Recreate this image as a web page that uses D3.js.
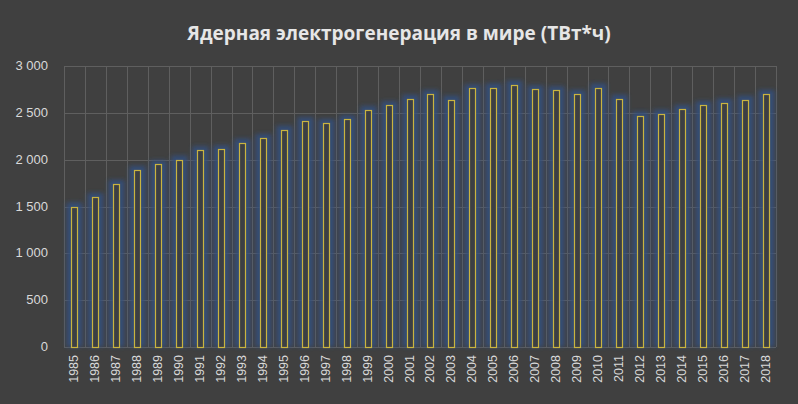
<!DOCTYPE html><html><head><meta charset="utf-8"><script src="https://cdn.jsdelivr.net/npm/d3@7"></script>
<style>body{margin:0;background:#404040}</style></head><body><svg id="c" width="798" height="404"></svg>
<script>
const years=d3.range(1985,2019).map(String);
const values=[1500,1600,1740,1890,1950,2000,2100,2110,2180,2230,2320,2410,2390,2430,2530,2580,2650,2700,2640,2760,2770,2800,2750,2740,2700,2770,2650,2470,2490,2540,2580,2610,2640,2700];
const yTicks=[0,500,1000,1500,2000,2500,3000];
const svg=d3.select("#c");
svg.append("rect").attr("width",798).attr("height",404).attr("fill","#404040");
const defs=svg.append("defs");
defs.append("filter").attr("id","bl").attr("x","-50%").attr("y","-10%").attr("width","200%").attr("height","120%")
 .append("feGaussianBlur").attr("stdDeviation",2.2);
const x=d3.scaleBand().domain(years).range([64,776]);
const y=d3.scaleLinear().domain([0,3000]).range([347,66]);
const fmt=v=>d3.format(",")(v).replace(","," ");
svg.append("g").selectAll("line").data(yTicks).join("line").attr("x1",64).attr("x2",776).attr("y1",d=>Math.round(y(d))+0.5).attr("y2",d=>Math.round(y(d))+0.5).attr("stroke","#5f5f5f");
svg.append("g").selectAll("line").data(years.concat(["end"])).join("line").attr("x1",(d,i)=>Math.round(64+i*x.step())+0.5).attr("x2",(d,i)=>Math.round(64+i*x.step())+0.5).attr("y1",66).attr("y2",347).attr("stroke","#5f5f5f");
svg.append("g").selectAll("text").data(yTicks).join("text").attr("x",48).attr("y",d=>y(d)+4).attr("text-anchor","end").attr("fill","#d9d9d9").attr("font-family","Liberation Sans, Arial").attr("font-size",13).text(fmt);
const bw=6;
const bx=i=>Math.round(x(years[i])+x.bandwidth()/2-bw/2)+0.5;
svg.append("g").attr("filter","url(#bl)").selectAll("rect").data(values).join("rect")
 .attr("x",(d,i)=>bx(i)-5).attr("width",bw+10).attr("y",d=>y(d)-4).attr("height",d=>347-y(d)+4)
 .attr("fill","#34507f").attr("opacity",0.85);
svg.append("g").selectAll("rect").data(values).join("rect")
 .attr("x",(d,i)=>bx(i)).attr("width",bw).attr("y",d=>Math.round(y(d))+0.5).attr("height",d=>347-Math.round(y(d)))
 .attr("fill","#3c3f44").attr("stroke","#c9b440").attr("stroke-width",1.2);
svg.append("g").selectAll("text").data(years).join("text")
 .attr("transform",d=>`translate(${x(d)+x.bandwidth()/2+4},355) rotate(-90)`).attr("text-anchor","end")
 .attr("fill","#d9d9d9").attr("font-family","Liberation Sans, Arial").attr("font-size",12.5).text(d=>d);
svg.append("text").attr("x",399).attr("y",40).attr("text-anchor","middle").attr("fill","#e6e6e6").attr("font-family","Open Sans, sans-serif").attr("font-weight","bold").attr("font-size",19).text("Ядерная электрогенерация в мире (ТВт*ч)");
</script></body></html>
